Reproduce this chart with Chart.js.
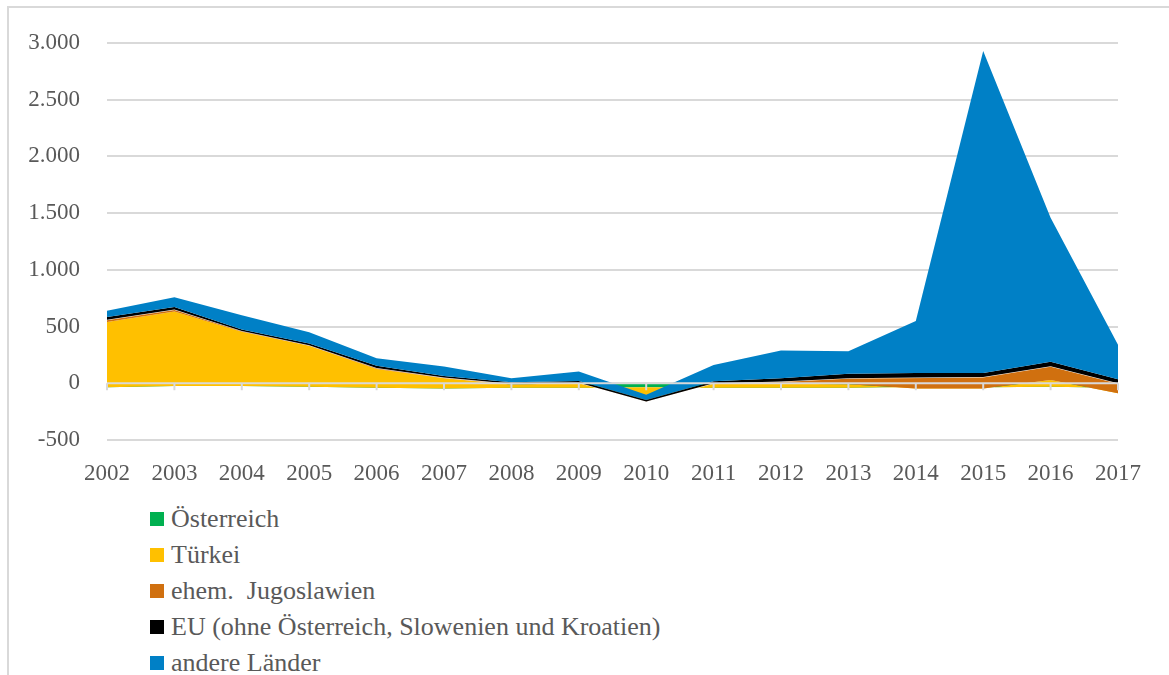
<!DOCTYPE html>
<html lang="de">
<head>
<meta charset="UTF-8">
<title>Wanderungssaldo nach Staatsangehörigkeit</title>
<script src="https://cdn.jsdelivr.net/npm/chart.js"></script>
<style>
    body {
        margin: 0;
        background: #fff;
        font-family: 'Liberation Serif', serif;
    }

    .rahmen {
        position: absolute;
        left: 7px;
        top: 6px;
        width: 1200px;
        height: 700px;
        border-left: 2px solid #d9d9d9;
        border-top: 2px solid #d9d9d9;
    }

    #saldoChart {
        position: absolute;
        left: 0;
        top: 0;
    }

    .legende {
        position: absolute;
        left: 150px;
        top: 501px;
        margin: 0;
        padding: 0;
        list-style: none;
    }

    .legende li {
        height: 36px;
        display: flex;
        align-items: center;
        font-size: 26px;
        color: #595959;
        white-space: pre;
    }

    .legende span {
        display: inline-block;
        width: 14px;
        height: 14px;
        margin-right: 7px;
    }
</style>
</head>
<body>
<div class="rahmen"></div>
<canvas id="saldoChart" width="1169" height="500"></canvas>
<ul class="legende" id="legende"></ul>

<script>
    // Werte (geschätzt)
    const jahre = ['2002', '2003', '2004', '2005', '2006', '2007', '2008', '2009',
        '2010', '2011', '2012', '2013', '2014', '2015', '2016', '2017'];

    const oesterreich = [-35, -25, -25, -30, -40, -45, -40, -40, -35, -40, -40, -40, -30, -35, -30, -40];
    const tuerkei = [575, 658, 480, 360, 167, 90, 30, 40, -65, 35, 35, 32, -15, -10, 60, -48];
    const jugoslawien = [20, 17, 7, 6, 8, 5, 5, 5, -60, 5, 20, 53, 95, 100, 120, 88];
    const eu = [25, 22, 13, 14, 20, 15, 15, 15, 12, 18, 30, 40, 40, 35, 40, 35];
    const andere = [55, 86, 125, 100, 65, 83, 35, 85, 48, 144, 243, 197, 460, 2840, 1270, 305];

    const namen = ['Österreich', 'Türkei', 'ehem.  Jugoslawien',
        'EU (ohne Österreich, Slowenien und Kroatien)', 'andere Länder'];
    const farben = ['#00b050', '#ffc000', '#d0700f', '#000000', '#0080c6'];

    const yTicks = [-500, 0, 500, 1000, 1500, 2000, 2500, 3000];

    // Excel stapelt einfach kumuliert (auch negative Werte)
    const reihen = [oesterreich, tuerkei, jugoslawien, eu, andere];
    const summen = [];
    let lauf = jahre.map(() => 0);
    reihen.forEach(r => {
        lauf = lauf.map((s, i) => s + r[i]);
        summen.push(lauf);
    });

    // umgekehrte Reihenfolge, damit die spätere Reihe oben liegt
    const datasets = [];
    for (let k = reihen.length - 1; k >= 0; k--) {
        const j = reihen.length - 1 - k;
        datasets.push({
            label: namen[k],
            data: summen[k],
            backgroundColor: farben[k],
            borderColor: k === 2 ? 'rgba(255,255,255,0.9)' : farben[k],
            borderWidth: k === 2 ? 1 : 0,
            pointRadius: 0,
            tension: 0,
            fill: k === 0 ? 'origin' : j + 1
        });
    }

    const fmt = v => String(v).replace(/\B(?=(\d{3})+(?!\d))/g, '.');

    // Nulllinie mit Teilstrichen über den Flächen
    const nullAchse = {
        id: 'nullAchse',
        afterDatasetsDraw(chart) {
            const { ctx, chartArea, scales } = chart;
            const y0 = scales.y.getPixelForValue(0);
            ctx.save();
            ctx.strokeStyle = '#d9d9d9';
            ctx.lineWidth = 2;
            ctx.beginPath();
            ctx.moveTo(chartArea.left, y0);
            ctx.lineTo(chartArea.right, y0);
            jahre.forEach((_, i) => {
                const x = scales.x.getPixelForValue(i);
                ctx.moveTo(x, y0);
                ctx.lineTo(x, y0 + 7);
            });
            ctx.stroke();
            ctx.restore();
        }
    };

    new Chart(document.getElementById('saldoChart').getContext('2d'), {
        type: 'line',
        data: { labels: jahre, datasets: datasets },
        plugins: [nullAchse],
        options: {
            responsive: false,
            animation: false,
            devicePixelRatio: 1,
            layout: { padding: { top: 43, right: 51, left: 0, bottom: 0 } },
            plugins: {
                legend: { display: false },
                tooltip: { enabled: false },
                filler: { propagate: false }
            },
            scales: {
                x: {
                    offset: false,
                    grid: { display: false },
                    border: { display: false },
                    ticks: {
                        color: '#595959',
                        font: { family: 'Liberation Serif', size: 23 },
                        padding: 12,
                        maxRotation: 0,
                        autoSkip: false
                    },
                    afterFit(scale) { scale.height = 60; }
                },
                y: {
                    min: -500,
                    max: 3000,
                    afterBuildTicks(scale) { scale.ticks = yTicks.map(v => ({ value: v })); },
                    grid: { color: '#d9d9d9', lineWidth: 2, drawTicks: false },
                    border: { display: false },
                    ticks: {
                        color: '#595959',
                        font: { family: 'Liberation Serif', size: 23 },
                        padding: 27,
                        callback: v => fmt(v)
                    },
                    afterFit(scale) { scale.width = 107; }
                }
            }
        }
    });

    const legende = document.getElementById('legende');
    namen.forEach((n, i) => {
        const li = document.createElement('li');
        const box = document.createElement('span');
        box.style.background = farben[i];
        li.appendChild(box);
        li.appendChild(document.createTextNode(n));
        legende.appendChild(li);
    });
</script>
</body>
</html>
